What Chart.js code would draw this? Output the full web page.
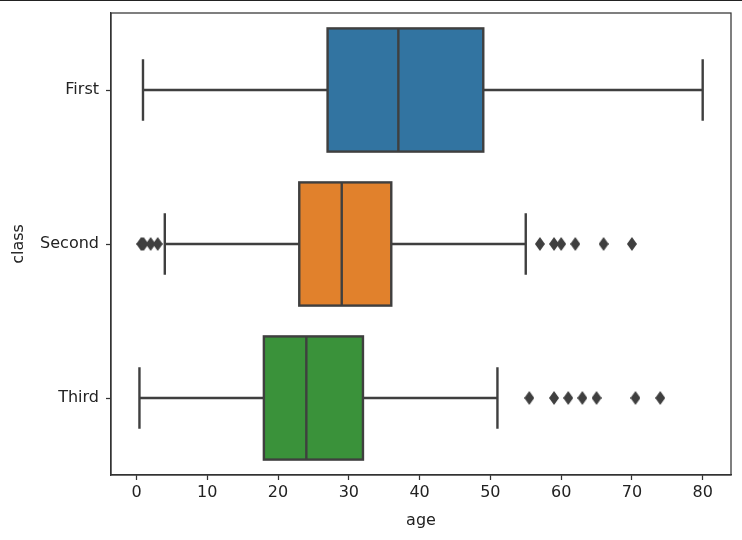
<!DOCTYPE html>
<html>
<head>
<meta charset="utf-8">
<script src="https://cdn.jsdelivr.net/npm/chart.js@4/dist/chart.umd.min.js"></script>
<style>
  html, body { margin: 0; padding: 0; background: #fff; }
  #wrap { position: relative; width: 742px; height: 540px; }
  #edge { position: absolute; left: 0; top: 0; width: 742px; height: 1px; background: #222; }
</style>
</head>
<body>
<div id="wrap">
  <canvas id="boxChart" width="742" height="540"></canvas>
  <div id="edge"></div>
</div>
<script>
// age by passenger class
const classes = ["First", "Second", "Third"];
const whiskerLow = [0.92, 4, 0.42];
const q1 = [27, 23, 18];
const median = [37, 29, 24];
const q3 = [49, 36, 32];
const whiskerHigh = [80, 55, 51];
const outliersFirst = [];
const outliersSecond = [0.67, 0.83, 1, 2, 3, 57, 59, 60, 62, 66, 70];
const outliersThird = [55.5, 59, 61, 63, 65, 70.5, 74];
const xTicks = [0, 10, 20, 30, 40, 50, 60, 70, 80];

const boxColors = ["#3274a1", "#e1812c", "#3a923a"];
const lineColor = "#3f3f3f";
const axisColor = "#333333";
const labelFont = { family: "DejaVu Sans", size: 16 };

// thin diamond marker like matplotlib 'd'
function diamondMarker(w, h) {
  const c = document.createElement("canvas");
  c.width = w;
  c.height = h;
  const g = c.getContext("2d");
  g.fillStyle = lineColor;
  g.beginPath();
  g.moveTo(w / 2, 0);
  g.lineTo(w, h / 2);
  g.lineTo(w / 2, h);
  g.lineTo(0, h / 2);
  g.closePath();
  g.fill();
  return c;
}

const outlierPoints = [];
[outliersFirst, outliersSecond, outliersThird].forEach(function (list, i) {
  list.forEach(function (v) {
    outlierPoints.push({ x: v, y: classes[i] });
  });
});

// whiskers, caps, box outlines, medians and the frame, drawn on the chart scales
const boxParts = {
  id: "boxParts",
  beforeDatasetsDraw(chart) {
    const ctx = chart.ctx;
    const xs = chart.scales.x;
    const meta = chart.getDatasetMeta(0);
    ctx.save();
    ctx.strokeStyle = lineColor;
    ctx.lineWidth = 2.4;
    meta.data.forEach(function (bar, i) {
      const y = bar.y;
      const capHalf = bar.height / 4;
      const xLo = xs.getPixelForValue(whiskerLow[i]);
      const xHi = xs.getPixelForValue(whiskerHigh[i]);
      ctx.beginPath();
      ctx.moveTo(xLo, y);
      ctx.lineTo(xs.getPixelForValue(q1[i]), y);
      ctx.moveTo(xs.getPixelForValue(q3[i]), y);
      ctx.lineTo(xHi, y);
      ctx.moveTo(xLo, y - capHalf);
      ctx.lineTo(xLo, y + capHalf);
      ctx.moveTo(xHi, y - capHalf);
      ctx.lineTo(xHi, y + capHalf);
      ctx.stroke();
    });
    ctx.restore();
  },
  afterDatasetsDraw(chart) {
    const ctx = chart.ctx;
    const xs = chart.scales.x;
    const meta = chart.getDatasetMeta(0);
    const area = chart.chartArea;
    ctx.save();
    ctx.strokeStyle = lineColor;
    ctx.lineWidth = 2.4;
    meta.data.forEach(function (bar, i) {
      const top = bar.y - bar.height / 2;
      const x1 = xs.getPixelForValue(q1[i]);
      const x3 = xs.getPixelForValue(q3[i]);
      const xm = xs.getPixelForValue(median[i]);
      ctx.strokeRect(x1, top, x3 - x1, bar.height);
      ctx.beginPath();
      ctx.moveTo(xm, top);
      ctx.lineTo(xm, top + bar.height);
      ctx.stroke();
    });
    ctx.strokeStyle = axisColor;
    ctx.lineWidth = 1.25;
    ctx.strokeRect(area.left, area.top, area.right - area.left, area.bottom - area.top);
    ctx.restore();
  }
};

const canvas = document.getElementById("boxChart");
new Chart(canvas, {
  type: "bar",
  data: {
    labels: classes,
    datasets: [
      {
        type: "bar",
        data: classes.map(function (c, i) { return [q1[i], q3[i]]; }),
        backgroundColor: boxColors,
        borderWidth: 0,
        barPercentage: 0.8,
        categoryPercentage: 1.0,
        order: 2
      },
      {
        type: "scatter",
        data: outlierPoints,
        pointStyle: diamondMarker(10, 14),
        pointRadius: 7,
        pointHoverRadius: 7,
        order: 1
      }
    ]
  },
  options: {
    indexAxis: "y",
    responsive: false,
    animation: false,
    devicePixelRatio: 1,
    layout: { padding: { top: 13, right: 11, left: 0, bottom: 10 } },
    plugins: {
      legend: { display: false },
      tooltip: { enabled: false }
    },
    scales: {
      x: {
        type: "linear",
        min: -3.6,
        max: 84,
        afterBuildTicks: function (scale) {
          scale.ticks = xTicks.map(function (v) { return { value: v }; });
        },
        afterFit: function (scale) { scale.height = 55; },
        grid: { drawOnChartArea: false, drawTicks: true, tickLength: 5, tickColor: axisColor, tickWidth: 1.25 },
        border: { display: true, color: axisColor, width: 1.25 },
        ticks: { color: "#222", padding: 3, maxRotation: 0, font: labelFont },
        title: { display: true, text: "age", color: "#222", padding: { top: 0, bottom: 0 }, font: labelFont }
      },
      y: {
        type: "category",
        offset: true,
        afterFit: function (scale) {
          scale.width = 111;
          scale.paddingTop = 0;
          scale.paddingBottom = 0;
        },
        grid: { offset: false, drawOnChartArea: false, drawTicks: true, tickLength: 5, tickColor: axisColor, tickWidth: 1.25 },
        border: { display: true, color: axisColor, width: 1.25 },
        ticks: { color: "#222", padding: 7, font: labelFont },
        title: { display: true, text: "class", color: "#222", padding: { top: 9, bottom: 0 }, font: labelFont }
      }
    }
  },
  plugins: [boxParts]
});
</script>
</body>
</html>
